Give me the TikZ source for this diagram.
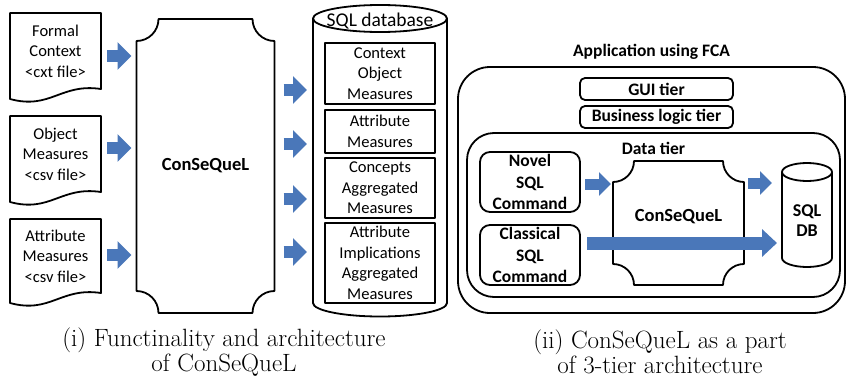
\documentclass[tikz,border=0pt]{standalone}
\usepackage{fontspec}
\setsansfont{Carlito}
\usetikzlibrary{arrows.meta,calc}
\definecolor{arrowblue}{HTML}{4A77B9}

% document symbol: rectangle with a wavy lower edge
\newcommand\docoutline[1]{%
  \draw[outline] (#1.south east) -- (#1.north east) -- (#1.north west)
    -- ($(#1.south west)+(0,10)$)
    .. controls ($(#1.south)+(-5,21)$) and ($(#1.south)+(5,-6)$) .. (#1.south east) -- cycle;}

% plaque: rectangle with concave corners
\newcommand\plaqueoutline[2]{%
  \draw[outline] ($(#1.north west)+(#2,0)$) -- ($(#1.north east)+(-#2,0)$)
    arc[start angle=180,end angle=90,radius=#2]
    -- ($(#1.south east)+(0,-#2)$)
    arc[start angle=270,end angle=180,radius=#2]
    -- ($(#1.south west)+(#2,0)$)
    arc[start angle=0,end angle=-90,radius=#2]
    -- ($(#1.north west)+(0,#2)$)
    arc[start angle=90,end angle=0,radius=#2] -- cycle;}

% database cylinder
\newcommand\cylinderoutline[3]{%
  \draw[outline] (#1.north west) -- (#1.south west)
    arc[start angle=180,end angle=0,x radius=#2,y radius=#3] -- (#1.north east);
  \draw[outline] (#1.north) ellipse[x radius=#2,y radius=#3];}

\begin{document}
\begin{tikzpicture}[x=1pt,y=-1pt,
  outline/.style={draw=black,line width=1.8pt,line join=round},
  geo/.style={inner sep=0pt,outer sep=0pt},
  lbl/.style={font=\sffamily\fontsize{16.5}{20.5}\selectfont,align=center,inner sep=0pt},
  blbl/.style={font=\sffamily\bfseries\fontsize{17.5}{21.5}\selectfont,align=center,inner sep=0pt},
  tbox/.style={outline,geo,lbl,minimum width=110},
  tier/.style={outline,geo,blbl,rounded corners=5,minimum width=153,minimum height=22},
  cmd/.style={outline,geo,blbl,rounded corners=10,minimum width=100,minimum height=60},
  caption/.style={font=\fontsize{25}{24.5}\selectfont,align=center,inner sep=0pt},
  flowA/.style={draw=arrowblue,line width=12pt,-{Triangle[width=27pt,length=14pt]}},
  flowB/.style={draw=arrowblue,line width=11pt,-{Triangle[width=23pt,length=12pt]}},
  flowC/.style={draw=arrowblue,line width=13pt,-{Triangle[width=27pt,length=15pt]}}]
\useasboundingbox (0,0) rectangle (847,380);

% ---------- (i) functionality and architecture ----------
\node[geo,lbl,minimum width=91,minimum height=76] (doc1) at (55.5,51) {Formal\\Context\\<cxt file>};
\node[geo,lbl,minimum width=91,minimum height=76] (doc2) at (55.5,154) {Object\\Measures\\<csv file>};
\node[geo,lbl,minimum width=91,minimum height=74] (doc3) at (55.5,256) {Attribute\\Measures\\<csv file>};
\docoutline{doc1}
\docoutline{doc2}
\docoutline{doc3}

\node[geo,font=\sffamily\bfseries\fontsize{18.5}{22}\selectfont,minimum width=138,minimum height=294] (cq) at (205.5,166) {ConSeQueL};
\plaqueoutline{cq}{22}

\node[geo,minimum width=134,minimum height=284.5] (sqlcyl) at (380,160.75) {};
\cylinderoutline{sqlcyl}{67}{13.5}
\node[lbl,font=\sffamily\fontsize{19.5}{22}\selectfont] (sqltitle) at ($(sqlcyl.north)+(0,2.5)$) {SQL database};

\node[tbox,minimum height=61] (t1) at (380,73.5) {Context\\Object\\Measures};
\node[tbox,minimum height=43] (t2) at (380,131.5) {Attribute\\Measures};
\node[tbox,minimum height=60] (t3) at (380,188) {Concepts\\Aggregated\\Measures};
\node[tbox,minimum height=80] (t4) at (380,263) {Attribute\\Implications\\Aggregated\\Measures};

\draw[flowA,shorten <=6,shorten >=5] ($(doc1.east)+(0,5)$) -- ($(doc1.east -| cq.west)+(0,5)$);
\draw[flowA,shorten <=6,shorten >=5] ($(doc2.east)+(0,-6)$) -- ($(doc2.east -| cq.west)+(0,-6)$);
\draw[flowA,shorten <=6,shorten >=5] ($(doc3.east)+(0,-1)$) -- ($(doc3.east -| cq.west)+(0,-1)$);

\draw[flowA,shorten <=9,shorten >=6] ($(cq.east)+(0,-76)$) -- ($(cq.east -| sqlcyl.west)+(0,-76)$);
\draw[flowA,shorten <=9,shorten >=6] ($(cq.east)+(0,-22)$) -- ($(cq.east -| sqlcyl.west)+(0,-22)$);
\draw[flowA,shorten <=9,shorten >=6] ($(cq.east)+(0,33)$) -- ($(cq.east -| sqlcyl.west)+(0,33)$);
\draw[flowA,shorten <=9,shorten >=6] ($(cq.east)+(0,86)$) -- ($(cq.east -| sqlcyl.west)+(0,86)$);

\node[caption] (capi) at (224,352) {(i) Functinality and architecture\\of ConSeQueL};

% ---------- (ii) ConSeQueL inside a 3-tier application ----------
\node[outline,geo,rounded corners=32,minimum width=387,minimum height=246] (app) at (651.5,190) {};
\node[blbl] (apptitle) at ($(app.north)+(0,-15)$) {Application using FCA};
\node[tier] (gui) at (656.5,89) {GUI tier};
\node[tier] (biz) at (656.5,117) {Business logic tier};
\node[outline,geo,rounded corners=27,minimum width=373,minimum height=164] (data) at (653.5,215) {};
\node[blbl] (datatitle) at ($(data.north)+(0,15)$) {Data tier};

\node[cmd] (nov) at (530,182) {Novel\\SQL\\Command};
\node[cmd] (cls) at (530,255) {Classical\\SQL\\Command};

\node[geo,minimum width=131,minimum height=124] (cq2) at (678.5,223) {};
\plaqueoutline{cq2}{21}
\node[blbl,font=\sffamily\bfseries\fontsize{18.5}{22}\selectfont] (cq2text) at ($(cq2.center)+(0,-6)$) {ConSeQueL};

\node[geo,minimum width=50,minimum height=86] (cyl2) at (807,215) {};
\cylinderoutline{cyl2}{25}{9}
\node[blbl,font=\sffamily\bfseries\fontsize{18}{20}\selectfont] (cyl2text) at ($(cyl2.center)+(0,6)$) {SQL\\DB};

\draw[flowB,shorten <=5,shorten >=2] ($(nov.east)+(0,2)$) -- ($(nov.east -| cq2.west)+(0,2)$);
\draw[flowB,shorten <=4,shorten >=10] ($(cq2.east)+(0,-40)$) -- ($(cq2.east -| cyl2.west)+(0,-40)$);
\draw[flowC,shorten <=7,shorten >=5] ($(cls.east)+(0,-12)$) -- ($(cls.east -| cyl2.west)+(0,-12)$);

\node[caption] (capii) at (660,352) {(ii) ConSeQueL as a part\\of 3-tier architecture};
\end{tikzpicture}
\end{document}
